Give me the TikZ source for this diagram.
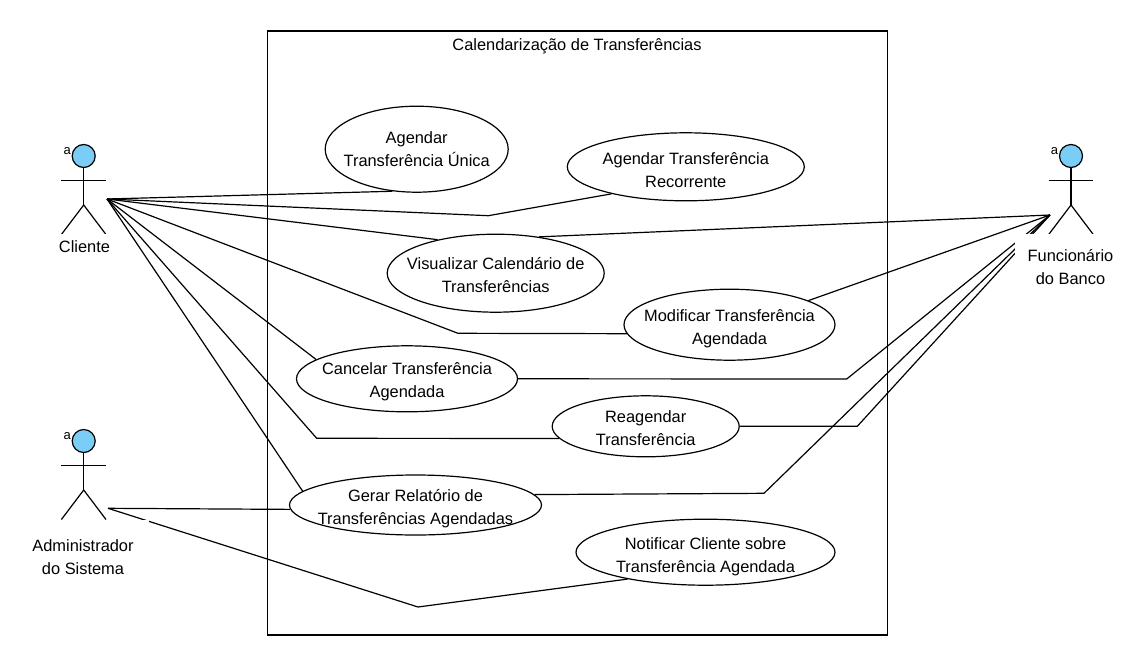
\documentclass[tikz,border=0pt]{standalone}
\usepackage{fontspec}
\setmainfont{Liberation Sans}
\usepackage{xcolor}
\usepackage{tikz}
\usetikzlibrary{shapes.geometric}
\definecolor{actorblue}{HTML}{7ACDF7}
\tikzset{
  usecase/.style={draw, ellipse, align=center, inner xsep=-40pt, inner ysep=-15pt, fill=white},
  actorname/.style={align=center, fill=white, inner sep=0pt},
  conn/.style={line width=1.2pt},
  pics/actor/.style={code={
    \draw[conn, fill=actorblue] (0,-15) circle (11.5);
    \draw[conn] (0,-3.5) -- (0,34);
    \draw[conn] (-22.3,9.5) -- (22.3,9.5);
    \draw[conn] (-22.3,63.5) -- (0,34) -- (22.3,63.5);
    \node[font=\fontsize{13}{13}\selectfont, inner sep=0pt] at (-16.5,-19.5) {a};
  }}
}

\begin{document}
\begin{tikzpicture}[x=1pt, y=-1pt, font=\fontsize{16.4}{23}\selectfont, line width=1.2pt]
  \useasboundingbox (0,0) rectangle (1141,670);

  \node[draw, minimum width=620pt, minimum height=604pt, inner sep=0pt] (sistema) at (577.5,333) {};
  \node[inner sep=0pt] (titulo) at (577,46) {Calendarização de Transferências};

  \pic at (83.7,171) {actor};
  \pic at (1071,171) {actor};
  \pic at (83.7,456) {actor};
  \coordinate (clientehand) at (107,199);
  \coordinate (bancohand) at (1050,215);
  \coordinate (adminhand) at (108,508.3);

  \node[usecase, minimum width=183pt, minimum height=86pt] (unica) at (416.7,149.2) {Agendar\\Transferência Única};
  \node[usecase, minimum width=237pt, minimum height=68pt, text height=41pt] (recorrente) at (685.8,166.8) {Agendar Transferência\\Recorrente};
  \node[usecase, minimum width=217pt, minimum height=78pt, text height=38pt] (visualizar) at (495.7,273.2) {Visualizar Calendário de\\Transferências};
  \node[usecase, minimum width=211pt, minimum height=71pt, text height=42pt] (modificar) at (729.5,324.7) {Modificar Transferência\\Agendada};
  \node[usecase, minimum width=221pt, minimum height=66pt, text height=41pt] (cancelar) at (407,378.8) {Cancelar Transferência\\Agendada};
  \node[usecase, minimum width=187pt, minimum height=61pt, text height=38pt] (reagendar) at (645.7,426.3) {Reagendar\\Transferência};
  \node[usecase, minimum width=252pt, minimum height=60pt, text height=42pt] (gerar) at (415.5,505) {Gerar Relatório de\\Transferências Agendadas};
  \node[usecase, minimum width=259pt, minimum height=66pt, text height=44pt] (notificar) at (705.5,552.2) {Notificar Cliente sobre\\Transferência Agendada};

  \coordinate (bendrecorrente) at (488.3,215.7);
  \coordinate (bendmodificar) at (458,333.3);
  \coordinate (bendreagendar) at (316.7,438.3);
  \coordinate (bendcancelar) at (846.7,379);
  \coordinate (bendreagendarb) at (857.3,426.3);
  \coordinate (bendgerar) at (764,493.3);
  \coordinate (bendnotificar) at (418,607);

  \draw[conn] (clientehand) -- (unica.240.4);
  \draw[conn] (clientehand) -- (bendrecorrente) -- (recorrente.200.7);
  \draw[conn] (clientehand) -- (visualizar.150.6);
  \draw[conn] (clientehand) -- (bendmodificar) -- (modificar.185.2);
  \draw[conn] (clientehand) -- (cancelar.168.5);
  \draw[conn] (clientehand) -- (bendreagendar) -- (reagendar.188.4);
  \draw[conn] (clientehand) -- (gerar.173.4);

  \draw[conn] (visualizar.40.6) -- (bancohand);
  \draw[conn] (modificar.17.1) -- (bancohand);
  \draw[conn] (cancelar.east) -- (bendcancelar) -- (bancohand);
  \draw[conn] (reagendar.east) -- (bendreagendarb) -- (bancohand);
  \draw[conn] (gerar.5.8) -- (bendgerar) -- (bancohand);

  \draw[conn] (adminhand) -- (gerar.182.2);
  \draw[conn] (adminhand) -- (bendnotificar) -- (notificar.199.8);

  \node[actorname, minimum width=52pt, minimum height=26pt] (cliente) at (84.5,247) {Cliente};
  \node[actorname, minimum width=111pt, minimum height=66pt] (banco) at (1070.5,267) {Funcionário\\do Banco};
  \node[actorname, minimum width=132pt, minimum height=74pt] (admin) at (83,557) {Administrador\\do Sistema};
\end{tikzpicture}
\end{document}
